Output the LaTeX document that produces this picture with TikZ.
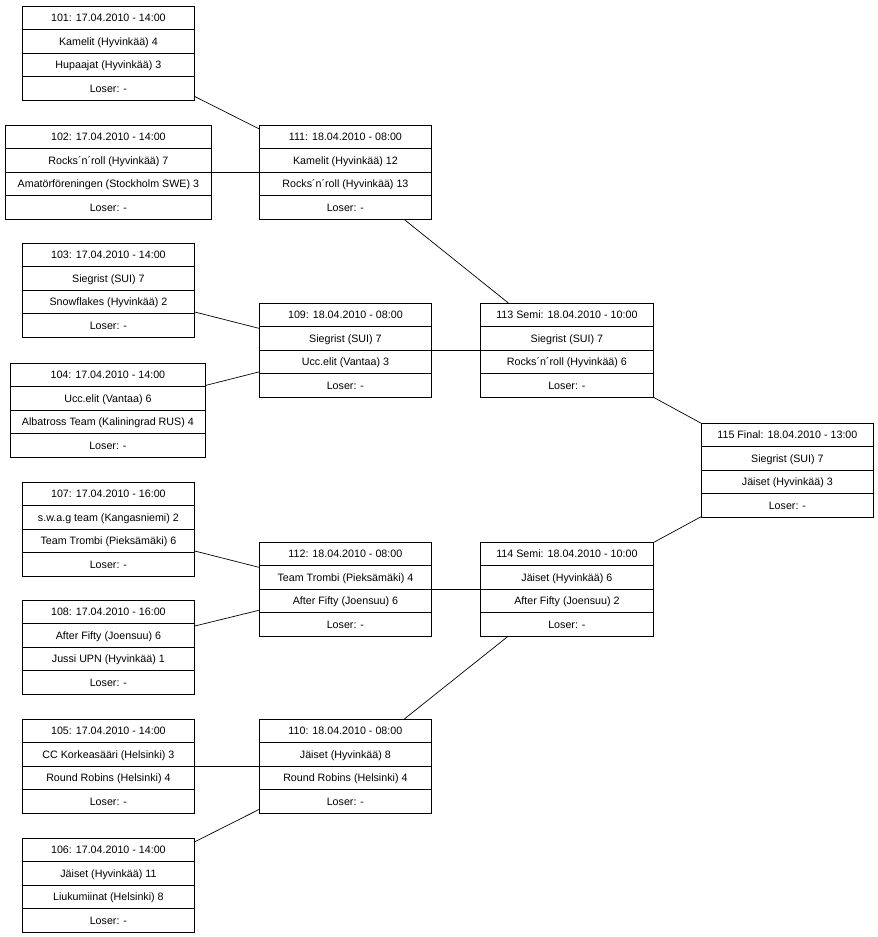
\documentclass[tikz,border=0pt]{standalone}
\usepackage{fontspec}
\setmainfont{Liberation Sans}
\usetikzlibrary{calc}
\tikzset{
  gamebox/.style={draw, line width=0.8bp, minimum height=93.5bp, inner sep=0pt, anchor=north west},
  rowtext/.style={inner sep=0pt, anchor=base, font=\fontsize{10.7bp}{12bp}\selectfont},
  rowline/.style={line width=0.8bp},
  link/.style={line width=0.7bp},
}
\newcommand\game[8]{%
  \node[gamebox, minimum width=#4bp] (#1) at (#2,#3) {};
  \foreach \k in {1,2,3}{\draw[rowline] ($(#1.north west)!\k/4!(#1.south west)$) -- ($(#1.north east)!\k/4!(#1.south east)$);}
  \node[rowtext] (#1-a) at ($(#1.north)!0.125!(#1.south)+(0,3.8)$) {#5};
  \node[rowtext] (#1-b) at ($(#1.north)!0.375!(#1.south)+(0,3.8)$) {#6};
  \node[rowtext] (#1-c) at ($(#1.north)!0.625!(#1.south)+(0,3.8)$) {#7};
  \node[rowtext] (#1-d) at ($(#1.north)!0.875!(#1.south)+(0,3.8)$) {#8};
}
\begin{document}
\begin{tikzpicture}[x=1bp,y=-1bp]
\useasboundingbox (0,0) rectangle (878,937);
\game{g101}{22}{6}{172}{101: 17.04.2010 - 14:00}{Kamelit (Hyvinkää) 4}{Hupaajat (Hyvinkää) 3}{Loser: -}
\game{g102}{5}{125}{206}{102: 17.04.2010 - 14:00}{Rocks´n´roll (Hyvinkää) 7}{Amatörföreningen (Stockholm SWE) 3}{Loser: -}
\game{g111}{259}{125}{172}{111: 18.04.2010 - 08:00}{Kamelit (Hyvinkää) 12}{Rocks´n´roll (Hyvinkää) 13}{Loser: -}
\game{g103}{22}{243}{172}{103: 17.04.2010 - 14:00}{Siegrist (SUI) 7}{Snowflakes (Hyvinkää) 2}{Loser: -}
\game{g109}{259}{303}{172}{109: 18.04.2010 - 08:00}{Siegrist (SUI) 7}{Ucc.elit (Vantaa) 3}{Loser: -}
\game{g113}{480}{303}{173}{113 Semi: 18.04.2010 - 10:00}{Siegrist (SUI) 7}{Rocks´n´roll (Hyvinkää) 6}{Loser: -}
\game{g104}{10}{363}{195}{104: 17.04.2010 - 14:00}{Ucc.elit (Vantaa) 6}{Albatross Team (Kaliningrad RUS) 4}{Loser: -}
\game{g115}{701}{423}{172}{115 Final: 18.04.2010 - 13:00}{Siegrist (SUI) 7}{Jäiset (Hyvinkää) 3}{Loser: -}
\game{g107}{22}{482}{172}{107: 17.04.2010 - 16:00}{s.w.a.g team (Kangasniemi) 2}{Team Trombi (Pieksämäki) 6}{Loser: -}
\game{g112}{259}{542}{172}{112: 18.04.2010 - 08:00}{Team Trombi (Pieksämäki) 4}{After Fifty (Joensuu) 6}{Loser: -}
\game{g114}{480}{542}{173}{114 Semi: 18.04.2010 - 10:00}{Jäiset (Hyvinkää) 6}{After Fifty (Joensuu) 2}{Loser: -}
\game{g108}{22}{600}{172}{108: 17.04.2010 - 16:00}{After Fifty (Joensuu) 6}{Jussi UPN (Hyvinkää) 1}{Loser: -}
\game{g105}{22}{719}{172}{105: 17.04.2010 - 14:00}{CC Korkeasääri (Helsinki) 3}{Round Robins (Helsinki) 4}{Loser: -}
\game{g110}{259}{719}{172}{110: 18.04.2010 - 08:00}{Jäiset (Hyvinkää) 8}{Round Robins (Helsinki) 4}{Loser: -}
\game{g106}{22}{838}{172}{106: 17.04.2010 - 14:00}{Jäiset (Hyvinkää) 11}{Liukumiinat (Helsinki) 8}{Loser: -}
\draw[link] (g101) -- (g111);
\draw[link] (g102) -- (g111);
\draw[link] (g103) -- (g109);
\draw[link] (g104) -- (g109);
\draw[link] (g111) -- (g113);
\draw[link] (g109) -- (g113);
\draw[link] (g113) -- (g115);
\draw[link] (g114) -- (g115);
\draw[link] (g107) -- (g112);
\draw[link] (g108) -- (g112);
\draw[link] (g112) -- (g114);
\draw[link] (g110) -- (g114);
\draw[link] (g105) -- (g110);
\draw[link] (g106) -- (g110);
\end{tikzpicture}
\end{document}
